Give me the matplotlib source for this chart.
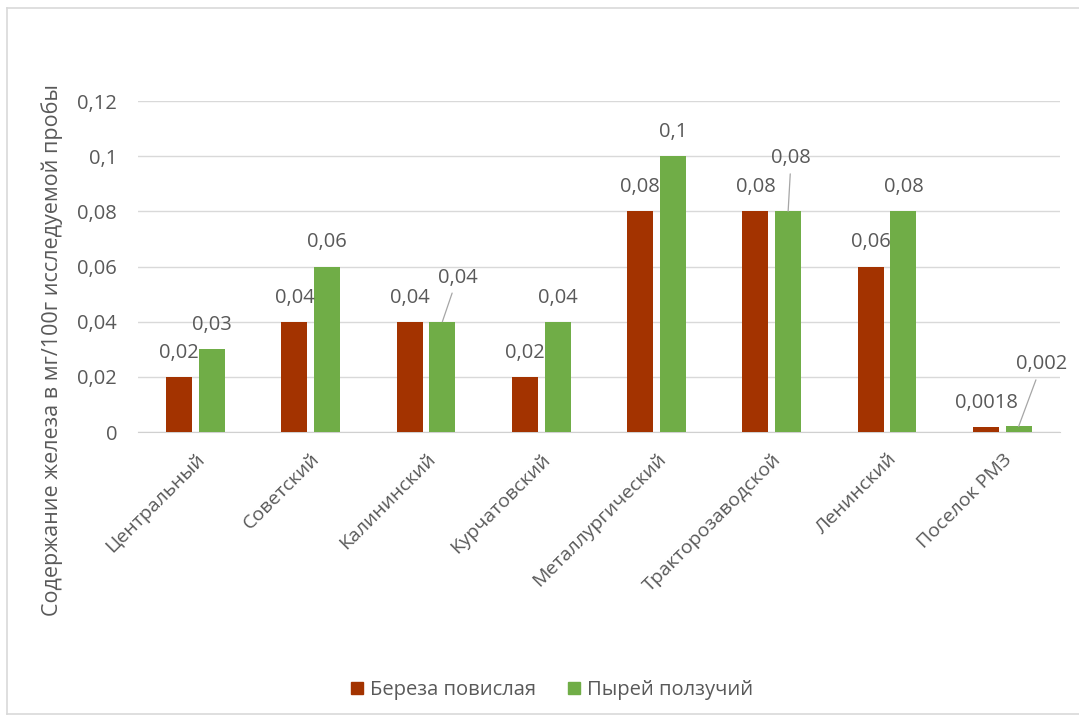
import matplotlib
matplotlib.use("Agg")
import matplotlib.pyplot as plt
from matplotlib.lines import Line2D
import numpy as np

categories = ["Центральный", "Советский", "Калининский", "Курчатовский",
              "Металлургический", "Тракторозаводской", "Ленинский", "Поселок РМЗ"]
birch = [0.02, 0.04, 0.04, 0.02, 0.08, 0.08, 0.06, 0.0018]
couch = [0.03, 0.06, 0.04, 0.04, 0.1, 0.08, 0.08, 0.002]
birch_labels = ["0,02", "0,04", "0,04", "0,02", "0,08", "0,08", "0,06", "0,0018"]
couch_labels = ["0,03", "0,06", "0,04", "0,04", "0,1", "0,08", "0,08", "0,002"]
yticks = [0, 0.02, 0.04, 0.06, 0.08, 0.1, 0.12]
ytick_labels = ["0", "0,02", "0,04", "0,06", "0,08", "0,1", "0,12"]
series_names = ["Береза повислая", "Пырей ползучий"]
ylabel = "Содержание железа в мг/100г исследуемой пробы"

# label offsets in pixels (dx, dy) of label centre from bar top; leader flag
birch_offsets = [(0, 24)] * 8
couch_offsets = [(0, 24), (0, 24), (15, 44), (0, 24), (0, 24), (3, 53), (0, 24), (23, 62)]
couch_leader = [False, False, True, False, False, True, False, True]

RED = "#A33300"
GREEN = "#70AD47"
TXT = "#595959"

plt.rcParams['font.family'] = ['Open Sans', 'DejaVu Sans']

W, H = 1079, 726
fig = plt.figure(figsize=(W / 100, H / 100), dpi=100)
ax = fig.add_axes([138 / W, 1 - 432 / H, (1060 - 138) / W, (432 - 101) / H])

x = np.arange(len(categories))
bw = 0.226
off = 0.141
ax.bar(x - off - 0.002, birch, bw, color=RED, zorder=3)
ax.bar(x + off, couch, bw, color=GREEN, zorder=3)

ax.set_xlim(-0.5, len(categories) - 0.5)
ax.set_ylim(0, 0.12)
ax.set_yticks(yticks)
ax.set_yticklabels(ytick_labels)
ax.yaxis.grid(True, color="#D9D9D9", lw=1, zorder=0)
ax.set_axisbelow(True)
for s in ["top", "right", "left"]:
    ax.spines[s].set_visible(False)
ax.spines["bottom"].set_color("#D0D0D0")
ax.tick_params(axis="y", length=0, pad=15, labelsize=14.5, labelcolor=TXT)
ax.tick_params(axis="x", length=0, pad=13, labelsize=14, labelcolor=TXT)
ax.set_xticks(x)
ax.set_xticklabels(categories, rotation=45, ha="right", va="top", rotation_mode="anchor")

for i in range(len(categories)):
    dx, dy = birch_offsets[i]
    ax.annotate(birch_labels[i], xy=(x[i] - off, birch[i]), xytext=(dx, dy),
                textcoords="offset pixels", ha="center", va="center",
                fontsize=14.5, color=TXT, zorder=5)
    dx, dy = couch_offsets[i]
    kw = {}
    if couch_leader[i]:
        kw["arrowprops"] = dict(arrowstyle="-", color="#A6A6A6", lw=0.9,
                                shrinkA=2, shrinkB=0)
    ax.annotate(couch_labels[i], xy=(x[i] + off, couch[i]), xytext=(dx, dy),
                textcoords="offset pixels", ha="center", va="center",
                fontsize=14.5, color=TXT, zorder=5, **kw)

fig.text(52 / W, 1 - 350 / H, ylabel, rotation=90, ha="center", va="center",
         fontsize=15.5, color=TXT)

handles = [plt.Rectangle((0, 0), 1, 1, color=RED), plt.Rectangle((0, 0), 1, 1, color=GREEN)]
fig.legend(handles, series_names, loc="center", bbox_to_anchor=(552 / W, 1 - 690 / H),
           ncol=2, frameon=False, fontsize=14.5, labelcolor=TXT,
           handlelength=0.6, handleheight=0.6, handletextpad=0.35, columnspacing=1.6)

# chart-area border
bc = "#D9D9D9"
fig.add_artist(Line2D([7 / W, 7 / W], [1 - 8 / H, 1 - 714 / H], color=bc, lw=1.2))
fig.add_artist(Line2D([7 / W, 1.0], [1 - 8 / H, 1 - 8 / H], color=bc, lw=1.2))
fig.add_artist(Line2D([7 / W, 1.0], [1 - 714 / H, 1 - 714 / H], color=bc, lw=1.2))

fig.savefig("out.png", dpi=100)
